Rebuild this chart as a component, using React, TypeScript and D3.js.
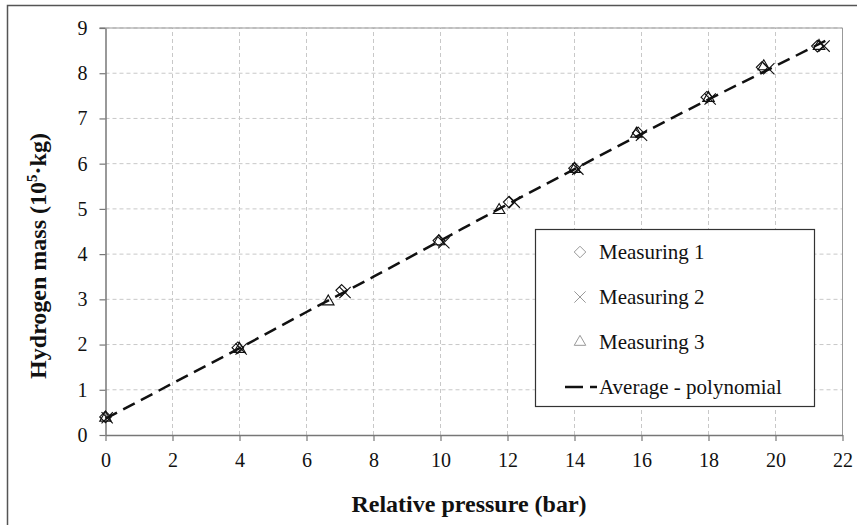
import React, { useEffect, useRef } from 'react';
import * as d3 from 'd3';

const xTicks = [0, 2, 4, 6, 8, 10, 12, 14, 16, 18, 20, 22];
const yTicks = [0, 1, 2, 3, 4, 5, 6, 7, 8, 9];

const m1 = [
  [0.0, 0.4], [3.95, 1.93], [7.05, 3.2], [9.95, 4.3], [12.05, 5.15],
  [14.0, 5.9], [15.9, 6.68], [17.95, 7.47], [19.6, 8.13], [21.25, 8.6],
];
const m2 = [
  [0.05, 0.38], [4.05, 1.9], [7.15, 3.15], [10.1, 4.25], [12.2, 5.15],
  [14.1, 5.88], [16.0, 6.63], [18.05, 7.43], [19.8, 8.1], [21.45, 8.6],
];
const m3 = [
  [0.0, 0.38], [4.0, 1.9], [6.65, 2.95], [9.95, 4.28], [11.75, 4.97],
  [14.0, 5.88], [15.85, 6.66], [18.0, 7.45], [19.65, 8.15], [21.3, 8.6],
];
const fit = [
  [0, 0.36], [2, 1.14], [4, 1.92], [6, 2.72], [8, 3.5], [10, 4.3],
  [12, 5.1], [14, 5.88], [16, 6.66], [18, 7.42], [20, 8.16], [21.5, 8.72],
];
const legendLabels = ['Measuring 1', 'Measuring 2', 'Measuring 3', 'Average - polynomial'];

const serif = '"Liberation Serif", "Times New Roman", serif';

export default function App() {
  const ref = useRef<SVGSVGElement>(null);

  useEffect(() => {
    const svg = d3.select(ref.current);
    svg.selectAll('*').remove();

    const x = d3.scaleLinear().domain([0, 22]).range([105.5, 842.5]);
    const y = d3.scaleLinear().domain([0, 9]).range([435, 28]);

    // outer frame
    svg.append('rect')
      .attr('x', 7.5).attr('y', 5.5).attr('width', 900).attr('height', 600)
      .attr('fill', 'none').attr('stroke', '#555').attr('stroke-width', 1.5);

    // grid
    const grid = svg.append('g');
    grid.selectAll('.vg').data(xTicks.slice(1)).join('line')
      .attr('x1', (d) => x(d)).attr('x2', (d) => x(d))
      .attr('y1', y(0)).attr('y2', y(9))
      .attr('stroke', '#c8c8c8').attr('stroke-dasharray', '4,3');
    grid.selectAll('.hg').data(yTicks.slice(1)).join('line')
      .attr('x1', x(0)).attr('x2', x(22))
      .attr('y1', (d) => y(d)).attr('y2', (d) => y(d))
      .attr('stroke', '#c8c8c8').attr('stroke-dasharray', '4,3');

    // plot border right/top
    svg.append('path')
      .attr('d', `M${x(0)},${y(9)}H${x(22)}V${y(0)}`)
      .attr('fill', 'none').attr('stroke', '#999').attr('stroke-width', 1);

    // axes
    const xAxis = svg.append('g').attr('transform', `translate(0,${y(0)})`)
      .call(d3.axisBottom(x).tickValues(xTicks).tickSize(6).tickPadding(8).tickSizeOuter(0));
    const yAxis = svg.append('g').attr('transform', `translate(${x(0)},0)`)
      .call(d3.axisLeft(y).tickValues(yTicks).tickSize(6).tickPadding(12).tickSizeOuter(0));
    [xAxis, yAxis].forEach((a) => {
      a.select('.domain').attr('stroke', '#777').attr('stroke-width', 1.5);
      a.selectAll('.tick line').attr('stroke', '#777').attr('stroke-width', 1.2);
      a.selectAll('text').attr('font-family', serif).attr('font-size', 20).attr('fill', '#111');
    });
    xAxis.selectAll('text').attr('dy', '0.9em');
    yAxis.append('line').attr('x1', -6).attr('x2', 0).attr('y1', y(9)).attr('y2', y(9))
      .attr('stroke', '#777').attr('stroke-width', 1.2);

    // fit line
    const line = d3.line<number[]>().x((d) => x(d[0])).y((d) => y(d[1])).curve(d3.curveMonotoneX);
    svg.append('path').datum(fit).attr('d', line)
      .attr('fill', 'none').attr('stroke', '#111').attr('stroke-width', 2.5)
      .attr('stroke-dasharray', '13,7');

    const diamond = d3.symbol(d3.symbolDiamond2, 85)();
    const cross = d3.symbol(d3.symbolX, 85)();
    const tri = d3.symbol(d3.symbolTriangle2, 95)();

    const drawMarks = (data: number[][], path: string | null) => {
      svg.append('g').selectAll('path').data(data).join('path')
        .attr('d', path)
        .attr('transform', (d) => `translate(${x(d[0])},${y(d[1])})`)
        .attr('fill', 'none').attr('stroke', '#111').attr('stroke-width', 1.1);
    };
    drawMarks(m1, diamond);
    drawMarks(m2, cross);
    drawMarks(m3, tri);

    // legend
    const lg = svg.append('g');
    lg.append('rect').attr('x', 535.5).attr('y', 229.5).attr('width', 279).attr('height', 177)
      .attr('fill', '#fff').attr('stroke', '#333').attr('stroke-width', 1.2);
    const rows = [252, 297, 342, 387];
    const syms = [diamond, cross, tri];
    legendLabels.forEach((lab, i) => {
      if (i < 3) {
        lg.append('path').attr('d', syms[i])
          .attr('transform', `translate(580,${rows[i]})`)
          .attr('fill', 'none').attr('stroke', '#999').attr('stroke-width', 1);
      } else {
        lg.append('line').attr('x1', 565).attr('x2', 583).attr('y1', rows[i]).attr('y2', rows[i])
          .attr('stroke', '#111').attr('stroke-width', 2.5);
        lg.append('line').attr('x1', 590).attr('x2', 597).attr('y1', rows[i]).attr('y2', rows[i])
          .attr('stroke', '#111').attr('stroke-width', 2.5);
      }
      lg.append('text').attr('x', 599).attr('y', rows[i]).attr('dy', '0.35em')
        .attr('font-family', serif).attr('font-size', 21).attr('fill', '#111').text(lab);
    });

    // axis titles
    svg.append('text').attr('x', 469).attr('y', 512).attr('text-anchor', 'middle')
      .attr('font-family', serif).attr('font-size', 24).attr('font-weight', 'bold').attr('fill', '#111')
      .text('Relative pressure (bar)');
    const yt = svg.append('text').attr('transform', 'translate(46,256) rotate(-90)')
      .attr('text-anchor', 'middle')
      .attr('font-family', serif).attr('font-size', 24).attr('font-weight', 'bold').attr('fill', '#111');
    yt.append('tspan').text('Hydrogen mass (10');
    yt.append('tspan').attr('font-size', 15).attr('dy', -9).text('5');
    yt.append('tspan').attr('dy', 9).text('·kg)');
  }, []);

  return (
    <svg ref={ref} width={857} height={525}
      style={{ position: 'absolute', left: 0, top: 0, background: '#fff' }} />
  );
}
